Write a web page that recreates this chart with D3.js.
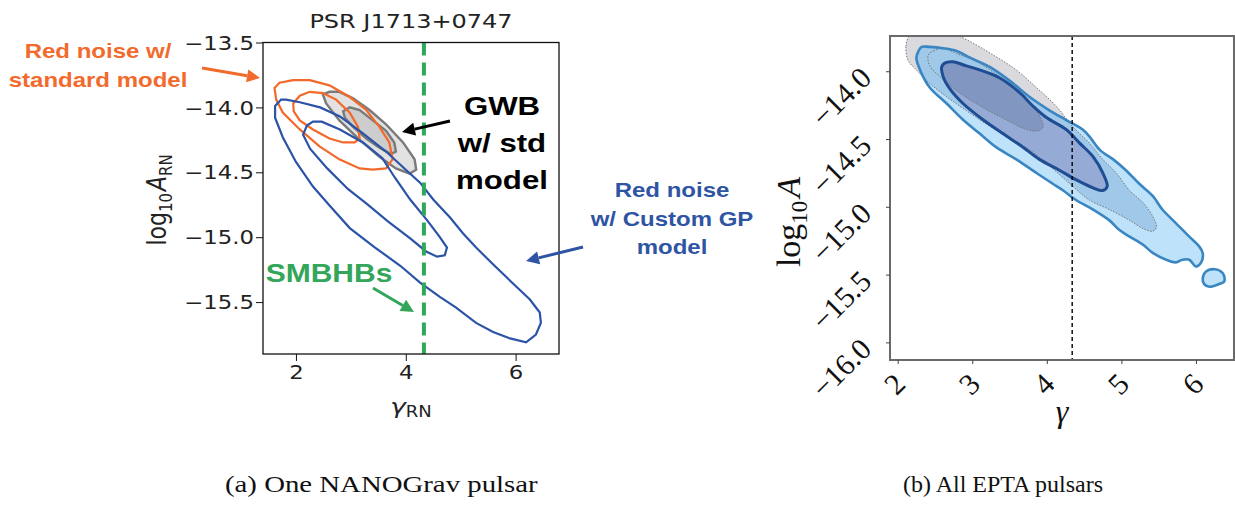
<!DOCTYPE html>
<html>
<head>
<meta charset="utf-8">
<script src="https://cdn.jsdelivr.net/npm/d3@7"></script>
<style>
  body { margin: 0; background: #fff; }
  svg { display: block; }
</style>
</head>
<body>
<svg id="fig" width="1235" height="512"></svg>
<script>
// ---- (a) PSR J1713+0747, contours in (gamma, log10 A) ----
const leftXTicks = [2, 4, 6];
const leftYTicks = [-13.5, -14.0, -14.5, -15.0, -15.5];
const smbhbGamma = 4.33;

// red noise, standard model (orange)
const rnStdOuter = [[1.61,-13.85],[1.70,-13.81],[1.95,-13.79],[2.25,-13.79],[2.61,-13.83],[2.98,-13.92],[3.28,-14.02],[3.52,-14.15],[3.70,-14.27],[3.76,-14.40],[3.64,-14.47],[3.40,-14.48],[3.16,-14.47],[2.79,-14.40],[2.43,-14.30],[2.07,-14.17],[1.76,-14.04],[1.64,-13.94]];
const rnStdInner = [[1.95,-13.97],[2.07,-13.91],[2.25,-13.88],[2.49,-13.89],[2.73,-13.94],[2.98,-14.04],[3.13,-14.15],[3.16,-14.24],[3.07,-14.27],[2.86,-14.27],[2.61,-14.24],[2.31,-14.17],[2.07,-14.10],[1.96,-14.03]];

// GWB, standard model (grey, filled)
const gwbStdOuter = [[2.49,-13.90],[2.61,-13.88],[2.79,-13.88],[3.04,-13.93],[3.34,-14.02],[3.64,-14.13],[3.95,-14.27],[4.16,-14.40],[4.19,-14.48],[4.07,-14.51],[3.82,-14.47],[3.52,-14.38],[3.16,-14.25],[2.79,-14.10],[2.55,-13.97]];
const gwbStdInner = [[2.86,-14.03],[2.98,-14.00],[3.16,-14.02],[3.40,-14.10],[3.64,-14.18],[3.79,-14.27],[3.82,-14.34],[3.73,-14.36],[3.52,-14.31],[3.28,-14.24],[3.04,-14.15],[2.89,-14.08]];

// red noise, custom GP model (blue)
const rnGpOuter = [[1.62,-13.99],[1.73,-13.94],[1.82,-13.94],[2.07,-13.96],[2.44,-14.00],[2.80,-14.07],[3.22,-14.20],[3.64,-14.34],[4.00,-14.48],[4.26,-14.58],[4.50,-14.71],[4.81,-14.85],[5.04,-14.97],[5.28,-15.08],[5.64,-15.23],[6.01,-15.38],[6.26,-15.48],[6.44,-15.58],[6.46,-15.66],[6.37,-15.75],[6.19,-15.81],[5.90,-15.78],[5.59,-15.73],[5.28,-15.66],[4.91,-15.54],[4.62,-15.46],[4.26,-15.35],[3.90,-15.22],[3.44,-15.08],[2.98,-14.93],[2.62,-14.76],[2.31,-14.61],[2.00,-14.42],[1.76,-14.23],[1.62,-14.08]];
const rnGpInner = [[2.13,-14.21],[2.20,-14.14],[2.31,-14.11],[2.47,-14.11],[2.80,-14.17],[3.22,-14.27],[3.57,-14.39],[3.80,-14.54],[4.08,-14.71],[4.39,-14.87],[4.62,-15.00],[4.75,-15.08],[4.71,-15.14],[4.57,-15.15],[4.37,-15.11],[4.08,-15.01],[3.68,-14.88],[3.28,-14.74],[2.95,-14.63],[2.57,-14.47],[2.26,-14.32]];

// ---- (b) all EPTA pulsars ----
const rightXTicks = [2, 3, 4, 5, 6];
const rightYTicks = [-14.0, -14.5, -15.0, -15.5, -16.0];
const gammaLine = 4.34;

const eptaOuter = [[2.28,-13.85],[2.32,-13.82],[2.43,-13.82],[2.61,-13.83],[2.79,-13.85],[2.97,-13.90],[3.24,-13.97],[3.55,-14.09],[3.77,-14.19],[4.04,-14.29],[4.26,-14.36],[4.48,-14.43],[4.57,-14.48],[4.71,-14.58],[4.89,-14.65],[5.06,-14.73],[5.24,-14.83],[5.42,-14.92],[5.55,-15.02],[5.73,-15.12],[5.91,-15.22],[6.04,-15.29],[6.09,-15.34],[6.07,-15.41],[6.00,-15.44],[5.91,-15.39],[5.82,-15.39],[5.73,-15.41],[5.60,-15.39],[5.42,-15.34],[5.29,-15.28],[5.11,-15.22],[4.97,-15.17],[4.84,-15.10],[4.62,-15.02],[4.39,-14.95],[4.22,-14.88],[4.08,-14.83],[3.86,-14.75],[3.59,-14.65],[3.32,-14.56],[3.10,-14.46],[2.88,-14.36],[2.66,-14.24],[2.43,-14.12],[2.30,-13.99],[2.25,-13.90]];
const eptaIsland = [[6.09,-15.53],[6.13,-15.48],[6.25,-15.46],[6.36,-15.49],[6.38,-15.55],[6.31,-15.57],[6.18,-15.59],[6.11,-15.57]];
const eptaInner = [[2.59,-13.97],[2.63,-13.94],[2.74,-13.93],[2.92,-13.96],[3.10,-13.99],[3.37,-14.05],[3.64,-14.16],[3.82,-14.26],[3.99,-14.34],[4.26,-14.43],[4.44,-14.53],[4.62,-14.63],[4.75,-14.75],[4.81,-14.85],[4.75,-14.88],[4.62,-14.86],[4.39,-14.80],[4.17,-14.73],[3.90,-14.65],[3.68,-14.56],[3.41,-14.46],[3.15,-14.36],[2.88,-14.24],[2.70,-14.13],[2.61,-14.04]];
const greyOuter = [[2.14,-13.75],[2.11,-13.82],[2.14,-13.92],[2.25,-13.99],[2.43,-14.09],[2.66,-14.19],[2.92,-14.29],[3.19,-14.39],[3.46,-14.48],[3.77,-14.58],[4.04,-14.70],[4.31,-14.83],[4.57,-14.95],[4.84,-15.02],[5.11,-15.10],[5.29,-15.16],[5.42,-15.18],[5.47,-15.15],[5.42,-15.07],[5.29,-14.97],[5.11,-14.88],[4.93,-14.75],[4.75,-14.65],[4.57,-14.53],[4.35,-14.41],[4.13,-14.26],[3.86,-14.12],[3.59,-13.99],[3.28,-13.88],[2.97,-13.78],[2.70,-13.71],[2.43,-13.65],[2.21,-13.66]];
const greyInner = [[2.41,-13.88],[2.48,-13.85],[2.61,-13.83],[2.79,-13.87],[3.06,-13.93],[3.37,-14.04],[3.64,-14.16],[3.86,-14.29],[3.95,-14.41],[3.88,-14.44],[3.73,-14.43],[3.46,-14.36],[3.15,-14.27],[2.83,-14.16],[2.57,-14.04],[2.43,-13.96]];

const svg = d3.select('#fig');
const STRETCH = 1.2; // left figure is a horizontally stretched image

// ================= left panel =================
const xL = d3.scaleLinear().domain([1.4, 6.79]).range([263, 559]);
const yL = d3.scaleLinear().domain([-13.5, -15.9]).range([42.5, 354]);
const lineL = d3.line().x(d => xL(d[0])).y(d => yL(d[1])).curve(d3.curveLinearClosed);

const left = svg.append('g');

left.append('path').datum(gwbStdOuter).attr('d', lineL)
  .attr('fill', '#e2e2e2').attr('stroke', '#7a7a7a').attr('stroke-width', 2.4);
left.append('path').datum(gwbStdInner).attr('d', lineL)
  .attr('fill', '#cdcdcd').attr('stroke', '#7a7a7a').attr('stroke-width', 2.4);

[rnStdOuter, rnStdInner].forEach(c => {
  left.append('path').datum(c).attr('d', lineL)
    .attr('fill', 'none').attr('stroke', '#f4692a').attr('stroke-width', 2.2);
});
[rnGpOuter, rnGpInner].forEach(c => {
  left.append('path').datum(c).attr('d', lineL)
    .attr('fill', 'none').attr('stroke', '#2b53a7').attr('stroke-width', 2.2);
});

left.append('line')
  .attr('x1', xL(smbhbGamma)).attr('x2', xL(smbhbGamma))
  .attr('y1', yL.range()[0]).attr('y2', yL.range()[1])
  .attr('stroke', '#2fa85b').attr('stroke-width', 4).attr('stroke-dasharray', '13,7');

left.append('rect')
  .attr('x', 263).attr('y', 42.5).attr('width', 296).attr('height', 311.5)
  .attr('fill', 'none').attr('stroke', '#111').attr('stroke-width', 1.3);

const axYL = left.append('g').attr('transform', 'translate(263,0)')
  .call(d3.axisLeft(yL).tickValues(leftYTicks).tickSize(7).tickFormat(d3.format('.1f')))
  .attr('font-family', 'DejaVu Sans').attr('font-size', 19).attr('color', '#111');
axYL.select('.domain').remove();
axYL.selectAll('text').attr('x', 0).attr('dy', '0.35em').attr('fill', '#222')
  .attr('transform', `translate(-9,0) scale(${STRETCH},1)`);

const axXL = left.append('g').attr('transform', 'translate(0,354)')
  .call(d3.axisBottom(xL).tickValues(leftXTicks).tickSize(7).tickFormat(d3.format('d')))
  .attr('font-family', 'DejaVu Sans').attr('font-size', 19).attr('color', '#111');
axXL.select('.domain').remove();
axXL.selectAll('text').attr('y', 0).attr('dy', '0.71em').attr('fill', '#222')
  .attr('transform', `translate(0,12) scale(${STRETCH},1)`);

left.append('text')
  .attr('transform', `translate(411,28) scale(${STRETCH},1)`)
  .attr('text-anchor', 'middle').attr('font-family', 'DejaVu Sans').attr('font-size', 20)
  .attr('fill', '#222').text('PSR J1713+0747');

const ylabL = left.append('text')
  .attr('transform', `translate(166,200) scale(${STRETCH},1) rotate(-90)`)
  .attr('text-anchor', 'middle').attr('font-family', 'DejaVu Sans').attr('font-size', 22).attr('fill', '#222');
ylabL.append('tspan').text('log');
ylabL.append('tspan').attr('font-size', 15).attr('dy', 5).text('10');
ylabL.append('tspan').attr('font-style', 'italic').attr('dy', -5).attr('dx', 2).text('A');
ylabL.append('tspan').attr('font-size', 15).attr('dy', 5).text('RN');

const xlabL = left.append('text')
  .attr('transform', `translate(411,414) scale(${STRETCH},1)`)
  .attr('text-anchor', 'middle').attr('font-family', 'DejaVu Sans').attr('font-size', 22).attr('fill', '#222');
xlabL.append('tspan').attr('font-style', 'italic').text('γ');
xlabL.append('tspan').attr('font-size', 15).attr('dy', 3).text('RN');

// annotations
function arrow(g, x1, y1, x2, y2, color) {
  const a = Math.atan2(y2 - y1, x2 - x1), hl = 13, hw = 6.5;
  const bx = x2 - hl * Math.cos(a), by = y2 - hl * Math.sin(a);
  g.append('line').attr('x1', x1).attr('y1', y1).attr('x2', bx).attr('y2', by)
    .attr('stroke', color).attr('stroke-width', 3);
  g.append('polygon')
    .attr('points', [[x2, y2], [bx + hw * Math.sin(a), by - hw * Math.cos(a)], [bx - hw * Math.sin(a), by + hw * Math.cos(a)]].join(' '))
    .attr('fill', color);
}
function note(g, lines, x, y0, dy, size, color) {
  lines.forEach((t, i) => {
    g.append('text')
      .attr('transform', `translate(${x},${y0 + i * dy}) scale(${STRETCH},1)`)
      .attr('text-anchor', 'middle').attr('font-family', 'Liberation Sans, Arial, sans-serif')
      .attr('font-weight', 'bold').attr('font-size', size).attr('fill', color).text(t);
  });
}
note(left, ['Red noise w/', 'standard model'], 98, 58, 29, 20, '#f26a2c');
arrow(left, 202, 68, 260, 78, '#f26a2c');
note(left, ['GWB', 'w/ std', 'model'], 502, 115, 37, 26, '#000');
arrow(left, 450, 121, 402, 132, '#000');
note(left, ['Red noise', 'w/ Custom GP', 'model'], 672, 197, 28.5, 20, '#2f54a3');
arrow(left, 583, 247, 526, 261, '#2f54a3');
note(left, ['SMBHBs'], 329, 282, 0, 25, '#33a65a');
arrow(left, 373, 288, 414, 312, '#33a65a');

left.append('text')
  .attr('transform', `translate(225,492) scale(${STRETCH},1)`)
  .attr('font-family', 'Liberation Serif, Times New Roman, serif').attr('font-size', 24)
  .attr('fill', '#111').text('(a) One NANOGrav pulsar');

// ================= right panel =================
const xR = d3.scaleLinear().domain([1.897, 6.51]).range([890, 1234]);
const yR = d3.scaleLinear().domain([-13.74, -16.13]).range([36, 360]);
const lineR = d3.line().x(d => xR(d[0])).y(d => yR(d[1])).curve(d3.curveCatmullRomClosed.alpha(0.5));

const right = svg.append('g');
const defs = svg.append('defs');
defs.append('clipPath').attr('id', 'plotR').append('rect')
  .attr('x', 890).attr('y', 36).attr('width', 344).attr('height', 324);
const clipOuter = defs.append('clipPath').attr('id', 'eptaOuterClip');
clipOuter.append('path').attr('d', lineR(eptaOuter));
clipOuter.append('path').attr('d', lineR(eptaIsland));
defs.append('clipPath').attr('id', 'eptaInnerClip').append('path').attr('d', lineR(eptaInner));

const plotR = right.append('g').attr('clip-path', 'url(#plotR)');

plotR.append('path').datum(greyOuter).attr('d', lineR).attr('fill', '#d9d9de');
[eptaOuter, eptaIsland].forEach(c => {
  plotR.append('path').datum(c).attr('d', lineR).attr('fill', '#bde2fa');
});
plotR.append('g').attr('clip-path', 'url(#eptaOuterClip)')
  .append('path').datum(greyOuter).attr('d', lineR).attr('fill', '#a0c8e8');
plotR.append('path').datum(eptaInner).attr('d', lineR).attr('fill', '#95aad4');
plotR.append('g').attr('clip-path', 'url(#eptaInnerClip)')
  .append('path').datum(greyInner).attr('d', lineR).attr('fill', '#8197c2');

[greyOuter, greyInner].forEach(c => {
  plotR.append('path').datum(c).attr('d', lineR)
    .attr('fill', 'none').attr('stroke', '#777').attr('stroke-width', 1)
    .attr('stroke-dasharray', '1.5,1.5');
});
[eptaOuter, eptaIsland].forEach(c => {
  plotR.append('path').datum(c).attr('d', lineR)
    .attr('fill', 'none').attr('stroke', '#3a86c2').attr('stroke-width', 2.6);
});
plotR.append('path').datum(eptaInner).attr('d', lineR)
  .attr('fill', 'none').attr('stroke', '#1f4d93').attr('stroke-width', 3);

right.append('line')
  .attr('x1', xR(gammaLine)).attr('x2', xR(gammaLine))
  .attr('y1', 36).attr('y2', 360)
  .attr('stroke', '#000').attr('stroke-width', 1.4).attr('stroke-dasharray', '4,3');

right.append('rect')
  .attr('x', 890).attr('y', 36).attr('width', 344).attr('height', 324)
  .attr('fill', 'none').attr('stroke', '#6a6a6a').attr('stroke-width', 2);

const serif = 'Liberation Serif, Times New Roman, serif';
const axYR = right.append('g').attr('transform', 'translate(890,0)')
  .call(d3.axisLeft(yR).tickValues(rightYTicks).tickSize(4).tickFormat(d3.format('.1f')))
  .attr('font-family', serif).attr('font-size', 30).attr('color', '#444');
axYR.select('.domain').remove();
axYR.selectAll('text').attr('x', 0).attr('dy', 0).attr('fill', '#111')
  .attr('text-anchor', 'end').attr('transform', 'translate(-17,8) rotate(-45)');

const axXR = right.append('g').attr('transform', 'translate(0,360)')
  .call(d3.axisBottom(xR).tickValues(rightXTicks).tickSize(4).tickFormat(d3.format('d')))
  .attr('font-family', serif).attr('font-size', 30).attr('color', '#444');
axXR.select('.domain').remove();
axXR.selectAll('text').attr('y', 0).attr('dy', 0).attr('fill', '#111')
  .attr('text-anchor', 'end').attr('transform', 'translate(9,26) rotate(-45)');

const ylabR = right.append('text')
  .attr('transform', 'translate(800,222) rotate(-90)')
  .attr('text-anchor', 'middle').attr('font-family', serif).attr('font-size', 34).attr('fill', '#111');
ylabR.append('tspan').text('log');
ylabR.append('tspan').attr('font-size', 23).attr('dy', 7).text('10');
ylabR.append('tspan').attr('font-style', 'italic').attr('dy', -7).attr('dx', 3).text('A');

right.append('text').attr('x', 1062).attr('y', 422)
  .attr('text-anchor', 'middle').attr('font-family', serif).attr('font-style', 'italic')
  .attr('font-size', 32).attr('fill', '#111').text('γ');

right.append('text').attr('x', 903).attr('y', 492)
  .attr('font-family', serif).attr('font-size', 24)
  .attr('fill', '#111').text('(b) All EPTA pulsars');
</script>
</body>
</html>
